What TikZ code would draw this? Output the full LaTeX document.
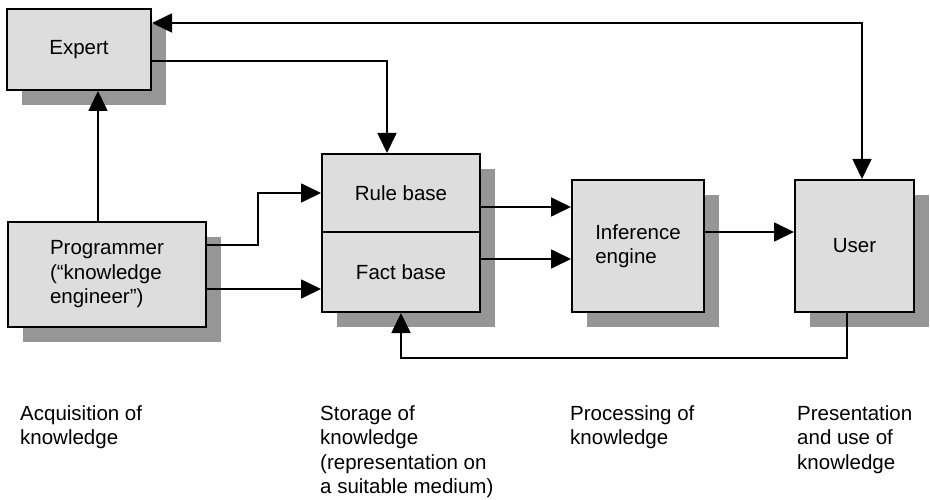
\documentclass[tikz,border=0pt]{standalone}
\usepackage{fontspec}
\setmainfont{Liberation Sans}
\usepackage{tikz}
\usetikzlibrary{arrows.meta,shadows}
\definecolor{boxgray}{HTML}{DDDDDD}
\definecolor{shadowgray}{HTML}{969696}

\begin{document}
\begin{tikzpicture}[x=1pt,y=-1pt,
    font=\fontsize{20.5}{24.5}\selectfont,
    block/.style={draw,line width=2pt,fill=boxgray,align=left,inner sep=0pt,
      drop shadow={shadow xshift=15pt,shadow yshift=-15pt,fill=shadowgray,opacity=1}},
    conn/.style={line width=1.7pt,-{Triangle[length=20pt,width=19pt]}},
    caption/.style={anchor=north west,align=left,inner sep=0pt}]

\useasboundingbox (0,0) rectangle (930,500);

% Blocks
\node[block,minimum width=144pt,minimum height=81pt] (expert) at (79,49.5) {Expert};
\node[block,minimum width=198pt,minimum height=105pt] (prog) at (107,274.5) {Programmer\\(“knowledge\\engineer”)};
\node[block,minimum width=158pt,minimum height=78pt] (rule) at (401,193) {Rule base};
\node[block,minimum width=158pt,minimum height=80pt] (fact) at (401,272) {Fact base};
\node[block,minimum width=132pt,minimum height=132pt] (infer) at (638,246) {Inference\\engine};
\node[block,minimum width=119pt,minimum height=132pt] (user) at (854.5,246) {User};

% Connector end points
\coordinate (e1) at ([yshift=26.5pt]expert.east);
\coordinate (u0) at ([xshift=7.5pt]user.north);
\coordinate (e2) at ([yshift=-11.5pt]expert.east);
\coordinate (r0) at ([xshift=-14pt]rule.north);
\coordinate (p1) at ([xshift=-9pt]prog.north);
\coordinate (p2) at ([yshift=29.5pt]prog.east);
\coordinate (p3) at ([yshift=-14.5pt]prog.east);
\coordinate (r1) at ([yshift=-14pt]rule.east);
\coordinate (f1) at ([yshift=13pt]fact.east);
\coordinate (i1) at ([yshift=14pt]infer.east);
\coordinate (u1) at ([xshift=-7.5pt]user.south);

% Connectors
\draw[conn,{Triangle[length=20pt,width=19pt]}-{Triangle[length=20pt,width=19pt]}] (e1) -| (u0);
\draw[conn] (e2) -| (r0);
\draw[conn] (p1) -- (p1 |- expert.south);
\draw[conn] (p2) -- ++(51,0) |- (rule.west);
\draw[conn] (p3) -- (p3 -| fact.west);
\draw[conn] (r1) -- (r1 -| infer.west);
\draw[conn] (f1) -- (f1 -| infer.west);
\draw[conn] (i1) -- (i1 -| user.west);
\draw[conn] (u1) -- ++(0,45) -| (fact.south);

% Captions
\node[caption] (cap1) at (20,405) {Acquisition of\\knowledge};
\node[caption] (cap2) at (320,405) {Storage of\\knowledge\\(representation on\\a suitable medium)};
\node[caption] (cap3) at (570,405) {Processing of\\knowledge};
\node[caption] (cap4) at (797,405) {Presentation\\and use of\\knowledge};

\end{tikzpicture}
\end{document}
